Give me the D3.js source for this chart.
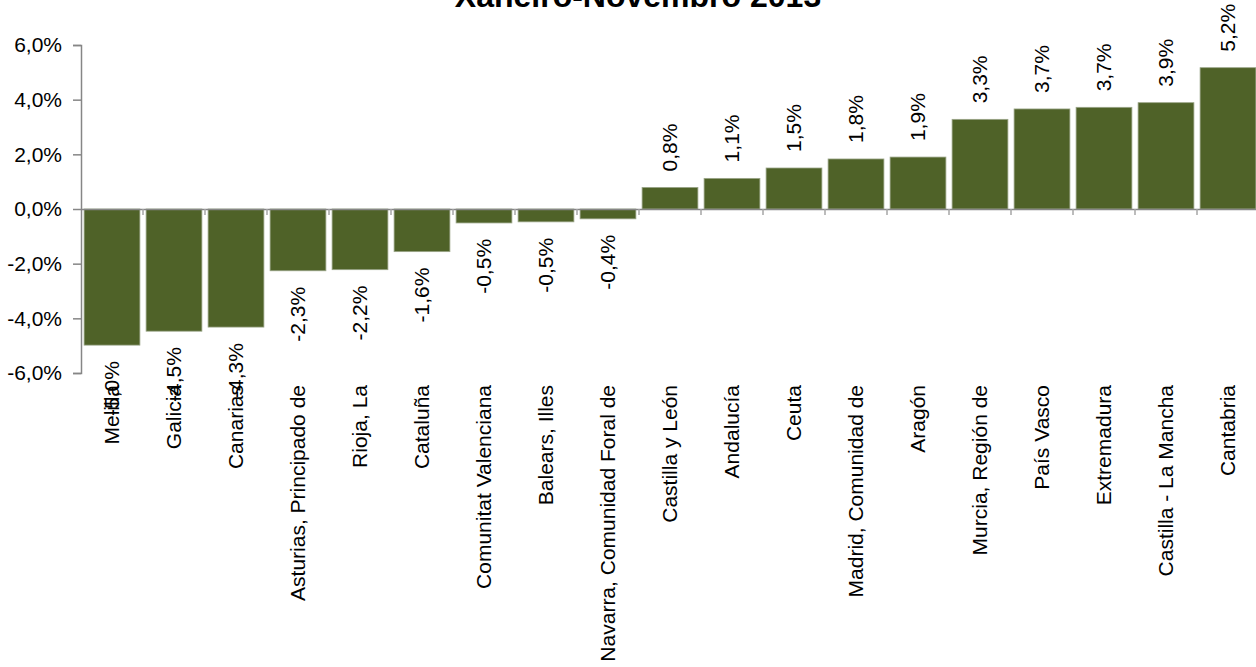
<!DOCTYPE html>
<html>
<head>
<meta charset="utf-8">
<script src="https://cdn.jsdelivr.net/npm/d3@7"></script>
<style>
  html, body { margin: 0; padding: 0; background: #fff; overflow: hidden; }
  svg { display: block; font-family: Arial, "Liberation Sans", sans-serif; }
</style>
</head>
<body>
<svg id="chart" width="1256" height="667"></svg>
<script>
const title = "Xaneiro-Novembro 2013";
const categories = [
  "Melilla", "Galicia", "Canarias", "Asturias, Principado de", "Rioja, La",
  "Cataluña", "Comunitat Valenciana", "Balears, Illes", "Navarra, Comunidad Foral de",
  "Castilla y León", "Andalucía", "Ceuta", "Madrid, Comunidad de", "Aragón",
  "Murcia, Región de", "País Vasco", "Extremadura", "Castilla - La Mancha", "Cantabria"
];
const values = [
  -4.98, -4.47, -4.32, -2.26, -2.22,
  -1.56, -0.51, -0.47, -0.36,
  0.79, 1.12, 1.50, 1.83, 1.90,
  3.28, 3.66, 3.72, 3.89, 5.17
];
const yTicks = [-6, -4, -2, 0, 2, 4, 6];
const yTickLabels = ["-6,0%", "-4,0%", "-2,0%", "0,0%", "2,0%", "4,0%", "6,0%"];

const W = 1256, H = 667;
const plotLeft = 81, plotTop = 45, plotBottom = 373;
const step = 62;
const svg = d3.select("#chart");

const x = d3.scaleBand()
  .domain(categories)
  .range([plotLeft, plotLeft + step * categories.length])
  .paddingInner(0.1)
  .paddingOuter(0.05);

const y = d3.scaleLinear().domain([-6, 6]).range([plotBottom, plotTop]);

const fmt = v => v.toFixed(1).replace(".", ",") + "%";

// Title
svg.append("text")
  .attr("x", 638).attr("y", 7)
  .attr("text-anchor", "middle")
  .attr("font-size", 32).attr("font-weight", "bold")
  .attr("fill", "#000")
  .text(title);

// Bars
svg.append("g").selectAll("rect")
  .data(categories)
  .join("rect")
  .attr("x", d => x(d))
  .attr("width", x.bandwidth())
  .attr("y", (d, i) => y(Math.max(0, values[i])))
  .attr("height", (d, i) => Math.abs(y(values[i]) - y(0)))
  .attr("fill", "#4F6228")
  .attr("stroke", "#9aa588")
  .attr("stroke-width", 0.8);

// Y axis
const yAxis = d3.axisLeft(y)
  .tickValues(yTicks)
  .tickFormat(d => yTickLabels[yTicks.indexOf(d)])
  .tickSize(8)
  .tickPadding(11);
const gy = svg.append("g").attr("transform", `translate(${plotLeft},0)`).call(yAxis);
gy.select(".domain").attr("stroke", "#868686").attr("stroke-width", 1.5);
gy.selectAll(".tick line").attr("stroke", "#868686").attr("stroke-width", 1.5);
gy.selectAll(".tick text")
  .attr("font-size", 21)
  .attr("fill", "#000")
  .attr("font-family", "Arial, 'Liberation Sans', sans-serif");

// Zero line with category ticks
const xAxis = d3.axisBottom(x).tickSize(0).tickFormat("");
const gx = svg.append("g").attr("transform", `translate(0,${y(0)})`).call(xAxis);
gx.select(".domain").attr("stroke", "#868686").attr("stroke-width", 1.5);
gx.selectAll(".tick").remove();
const boundaries = d3.range(1, categories.length).map(i => x(categories[i]) - x.step() * x.paddingInner() / 2);
gx.selectAll("line.bound")
  .data(boundaries)
  .join("line")
  .attr("class", "bound")
  .attr("x1", d => d).attr("x2", d => d)
  .attr("y1", 0).attr("y2", 6)
  .attr("stroke", "#a6a6a6").attr("stroke-width", 1.5);

// Data labels
svg.append("g").selectAll("text")
  .data(categories)
  .join("text")
  .attr("font-size", 21)
  .attr("fill", "#000")
  .attr("dy", "0.35em")
  .attr("text-anchor", (d, i) => values[i] >= 0 ? "start" : "end")
  .attr("transform", (d, i) => {
    const cx = x(d) + x.bandwidth() / 2;
    const cy = values[i] >= 0 ? y(values[i]) - 16 : y(values[i]) + 16;
    return `translate(${cx},${cy}) rotate(-90)`;
  })
  .text((d, i) => fmt(values[i]));

// Category labels
const catG = svg.append("g");
catG.selectAll("text")
  .data(categories)
  .join("text")
  .attr("font-size", 21)
  .attr("fill", "#000")
  .attr("dy", "0.35em")
  .attr("text-anchor", "end")
  .text(d => d)
  .each(function(d) {
    const len = this.getComputedTextLength();
    const yEnd = Math.min(385, H - 1 - len);
    const cx = x(d) + x.bandwidth() / 2;
    d3.select(this).attr("transform", `translate(${cx},${yEnd}) rotate(-90)`);
  });
</script>
</body>
</html>
